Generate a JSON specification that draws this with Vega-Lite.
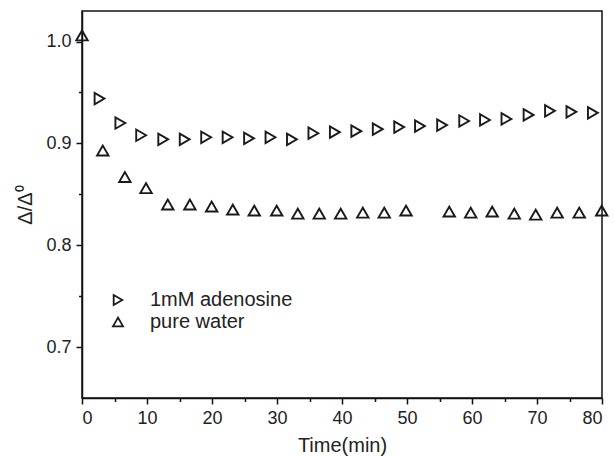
{
  "$schema": "https://vega.github.io/schema/vega-lite/v6.json",
  "width": 520,
  "height": 387,
  "autosize": "none",
  "padding": {"left": 82, "top": 11, "right": 13, "bottom": 59},
  "background": "white",
  "config": {
    "font": "Liberation Sans",
    "view": {"stroke": "#111", "strokeWidth": 1.5},
    "axis": {"grid": false, "domainColor": "#111", "domainWidth": 1.5, "tickColor": "#111", "tickWidth": 1.5, "labelColor": "#222", "titleColor": "#222", "labelFont": "Liberation Sans", "titleFont": "Liberation Sans", "titleFontWeight": "normal"}
  },
  "data": {
    "values": [
      {"t": 2.7, "v": 0.944, "series": "1mM adenosine"},
      {"t": 5.9, "v": 0.920, "series": "1mM adenosine"},
      {"t": 9.1, "v": 0.908, "series": "1mM adenosine"},
      {"t": 12.5, "v": 0.904, "series": "1mM adenosine"},
      {"t": 15.8, "v": 0.904, "series": "1mM adenosine"},
      {"t": 19.1, "v": 0.906, "series": "1mM adenosine"},
      {"t": 22.4, "v": 0.906, "series": "1mM adenosine"},
      {"t": 25.7, "v": 0.905, "series": "1mM adenosine"},
      {"t": 29.0, "v": 0.906, "series": "1mM adenosine"},
      {"t": 32.3, "v": 0.904, "series": "1mM adenosine"},
      {"t": 35.6, "v": 0.910, "series": "1mM adenosine"},
      {"t": 38.9, "v": 0.911, "series": "1mM adenosine"},
      {"t": 42.2, "v": 0.912, "series": "1mM adenosine"},
      {"t": 45.5, "v": 0.914, "series": "1mM adenosine"},
      {"t": 48.8, "v": 0.916, "series": "1mM adenosine"},
      {"t": 52.0, "v": 0.917, "series": "1mM adenosine"},
      {"t": 55.4, "v": 0.918, "series": "1mM adenosine"},
      {"t": 58.8, "v": 0.922, "series": "1mM adenosine"},
      {"t": 62.0, "v": 0.923, "series": "1mM adenosine"},
      {"t": 65.3, "v": 0.924, "series": "1mM adenosine"},
      {"t": 68.7, "v": 0.928, "series": "1mM adenosine"},
      {"t": 72.0, "v": 0.932, "series": "1mM adenosine"},
      {"t": 75.3, "v": 0.931, "series": "1mM adenosine"},
      {"t": 78.6, "v": 0.930, "series": "1mM adenosine"},
      {"t": 0, "v": 1.006, "series": "pure water"},
      {"t": 3.2, "v": 0.893, "series": "pure water"},
      {"t": 6.6, "v": 0.867, "series": "pure water"},
      {"t": 9.85, "v": 0.856, "series": "pure water"},
      {"t": 13.2, "v": 0.840, "series": "pure water"},
      {"t": 16.6, "v": 0.840, "series": "pure water"},
      {"t": 19.95, "v": 0.838, "series": "pure water"},
      {"t": 23.2, "v": 0.835, "series": "pure water"},
      {"t": 26.5, "v": 0.834, "series": "pure water"},
      {"t": 29.95, "v": 0.834, "series": "pure water"},
      {"t": 33.2, "v": 0.831, "series": "pure water"},
      {"t": 36.5, "v": 0.831, "series": "pure water"},
      {"t": 39.8, "v": 0.831, "series": "pure water"},
      {"t": 43.2, "v": 0.832, "series": "pure water"},
      {"t": 46.5, "v": 0.832, "series": "pure water"},
      {"t": 49.85, "v": 0.834, "series": "pure water"},
      {"t": 56.5, "v": 0.833, "series": "pure water"},
      {"t": 59.8, "v": 0.832, "series": "pure water"},
      {"t": 63.1, "v": 0.833, "series": "pure water"},
      {"t": 66.5, "v": 0.831, "series": "pure water"},
      {"t": 69.8, "v": 0.830, "series": "pure water"},
      {"t": 73.1, "v": 0.832, "series": "pure water"},
      {"t": 76.5, "v": 0.832, "series": "pure water"},
      {"t": 79.95, "v": 0.834, "series": "pure water"}
    ]
  },
  "layer": [
    {
      "mark": {"type": "point", "opacity": 0},
      "encoding": {
        "x": {"field": "t", "type": "quantitative", "scale": {"domain": [0, 80], "nice": false},
          "axis": {"orient": "bottom", "values": [5, 15, 25, 35, 45, 55, 65, 75], "labels": false, "domain": false, "tickSize": 3.5, "title": null}},
        "y": {"field": "v", "type": "quantitative", "scale": {"domain": [0.65, 1.03], "nice": false, "zero": false},
          "axis": {"orient": "left", "values": [0.75, 0.85, 0.95], "labels": false, "domain": false, "tickSize": 3.5, "title": null}}
      }
    },
    {
      "mark": {"type": "point", "filled": false, "strokeWidth": 1.9, "size": 130, "clip": false, "opacity": 1},
      "encoding": {
        "x": {"field": "t", "type": "quantitative", "scale": {"domain": [0, 80], "nice": false},
          "axis": {"orient": "bottom", "values": [0, 10, 20, 30, 40, 50, 60, 70, 80], "tickSize": 6, "labelFontSize": 18, "labelPadding": 5, "title": "Time(min)", "titleFontSize": 20, "titleBaseline": "alphabetic", "titleY": 53, "titleX": 260}},
        "y": {"field": "v", "type": "quantitative", "scale": {"domain": [0.65, 1.03], "nice": false, "zero": false},
          "axis": {"orient": "left", "values": [0.7, 0.8, 0.9, 1.0], "format": ".1f", "tickSize": 6, "labelFontSize": 18, "labelPadding": 5, "title": "Δ/Δ⁰", "titleFontSize": 20, "titleAngle": -90, "titleBaseline": "middle", "titleAlign": "center", "titleX": -57, "titleY": 193.5}},
        "shape": {"field": "series", "type": "nominal",
          "scale": {"domain": ["1mM adenosine", "pure water"], "range": ["triangle-right", "triangle-up"]},
          "legend": {"orient": "none", "legendX": 26, "legendY": 279, "title": null, "padding": 0, "symbolSize": 100, "symbolStrokeColor": "#1a1a1a", "symbolStrokeWidth": 1.8, "symbolFillColor": "transparent", "labelFontSize": 20, "labelFont": "Liberation Sans", "labelColor": "#222", "labelOffset": 22, "rowPadding": 2}},
        "color": {"value": "#1a1a1a"}
      }
    }
  ],
  "resolve": {"axis": {"x": "independent", "y": "independent"}}
}
